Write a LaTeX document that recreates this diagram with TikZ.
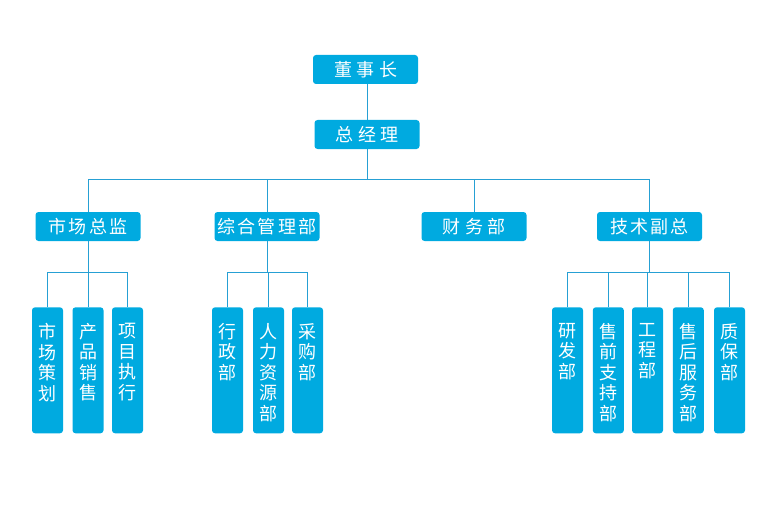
\documentclass[tikz,border=0pt]{standalone}
\usepackage{fontspec}
\setmainfont{Noto Sans CJK SC}
\definecolor{boxc}{RGB}{0,170,224}
\definecolor{linec}{RGB}{38,160,212}
\newcommand\kk{\kern4.5pt}
\newcommand\ks{\kern2.2pt}
\begin{document}
\begin{tikzpicture}[x=1pt,y=-1pt,
  hbox/.style={fill=boxc, rounded corners=3pt, minimum width=105pt, minimum height=29pt, inner sep=0pt, text=white, font=\fontsize{18}{20}\selectfont},
  vbox/.style={fill=boxc, rounded corners=3pt, minimum width=31pt, minimum height=126pt, inner sep=0pt},
  vtext/.style={text=white, anchor=north, align=center, inner sep=0pt, font=\fontsize{18}{20.5}\selectfont},
  conn/.style={draw=linec, line width=1pt}]
\useasboundingbox (0,0) rectangle (764,519);
% level 0/1
\node[hbox] (dsz) at (365.5,69.5) {董\kk 事\kk 长};
\node[hbox] (zjl) at (367,134.5) {总\kk 经\kk 理};
% level 2
\node[hbox] (sczj) at (88,226.5) {市\ks 场\ks 总\ks 监};
\node[hbox] (zhgl) at (267,226.5) {综\ks 合\ks 管\ks 理\ks 部};
\node[hbox] (cwb) at (474,226.5) {财\kk 务\kk 部};
\node[hbox] (jsfz) at (649.5,226.5) {技\ks 术\ks 副\ks 总};
% level 3
\foreach \n/\x in {a1/47.5,a2/88,a3/127.5,b1/227.5,b2/268.5,b3/307.5,c1/567.5,c2/608.3,c3/647.5,c4/688.3,c5/729.5}
  \node[vbox] (\n) at (\x,370.3) {};
\node[vtext] (ta1) at ([yshift=-16pt]a1.north) {市\\场\\策\\划};
\node[vtext] (ta2) at ([yshift=-16pt]a2.north) {产\\品\\销\\售};
\node[vtext] (ta3) at ([yshift=-16pt]a3.north) {项\\目\\执\\行};
\node[vtext] (tb1) at ([yshift=-16pt]b1.north) {行\\政\\部};
\node[vtext] (tb2) at ([yshift=-16pt]b2.north) {人\\力\\资\\源\\部};
\node[vtext] (tb3) at ([yshift=-16pt]b3.north) {采\\购\\部};
\node[vtext] (tc1) at ([yshift=-16pt]c1.north) {研\\发\\部};
\node[vtext] (tc2) at ([yshift=-16pt]c2.north) {售\\前\\支\\持\\部};
\node[vtext] (tc3) at ([yshift=-16pt]c3.north) {工\\程\\部};
\node[vtext] (tc4) at ([yshift=-16pt]c4.north) {售\\后\\服\\务\\部};
\node[vtext] (tc5) at ([yshift=-16pt]c5.north) {质\\保\\部};
% bus coordinates
\coordinate (bus) at (0,179);
\coordinate (sub) at (0,272);
% connectors
\draw[conn] (zjl.north) -- (zjl.north |- dsz.south);
\draw[conn] (zjl.south) -- (zjl.south |- bus);
\draw[conn] (sczj.north) |- (jsfz.north |- bus) -- (jsfz.north);
\draw[conn] (zhgl.north) -- (zhgl.north |- bus);
\draw[conn] (cwb.north) -- (cwb.north |- bus);
% market sub-tree
\draw[conn] (sczj.south) -- (sczj.south |- sub);
\draw[conn] (a1.north) |- (a3.north |- sub) -- (a3.north);
\draw[conn] (a2.north) -- (a2.north |- sub);
% admin sub-tree
\draw[conn] (zhgl.south) -- (zhgl.south |- sub);
\draw[conn] (b1.north) |- (b3.north |- sub) -- (b3.north);
\draw[conn] (b2.north) -- (b2.north |- sub);
% tech sub-tree
\draw[conn] (jsfz.south) -- (jsfz.south |- sub);
\draw[conn] (c1.north) |- (c5.north |- sub) -- (c5.north);
\draw[conn] (c2.north) -- (c2.north |- sub);
\draw[conn] (c3.north) -- (c3.north |- sub);
\draw[conn] (c4.north) -- (c4.north |- sub);
\end{tikzpicture}
\end{document}
